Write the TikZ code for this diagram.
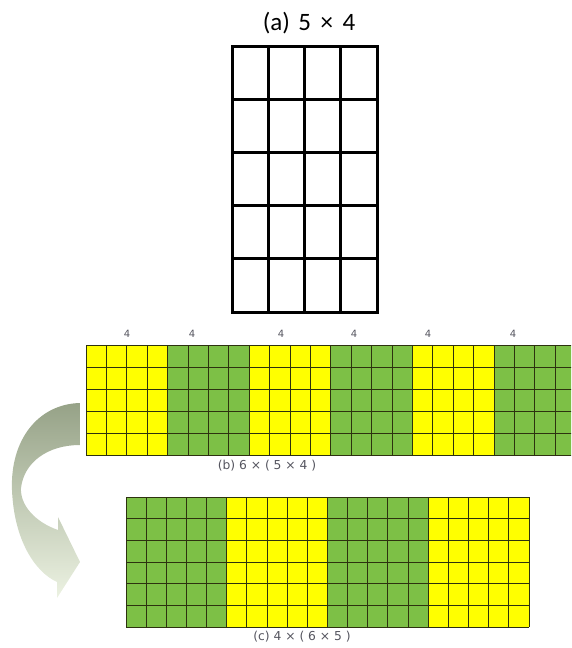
\documentclass[tikz,border=0pt]{standalone}
\usepackage{fontspec}
\setmainfont{Carlito}
\newfontfamily\lblfont{DejaVu Sans}
\definecolor{gyel}{RGB}{255,255,0}
\definecolor{ggrn}{RGB}{125,192,70}
\definecolor{gline}{RGB}{45,50,15}
\definecolor{lblgray}{RGB}{85,85,95}
\definecolor{arrtop}{RGB}{150,162,135}
\definecolor{arrbot}{RGB}{236,242,226}
\tikzset{
  agrid/.style={line width=3pt, draw=black},
  cgrid/.style={line width=1pt, draw=gline},
  numlbl/.style={font=\lblfont\fontsize{10}{11}\selectfont, text=lblgray, inner sep=0pt},
  caplbl/.style={font=\lblfont\fontsize{12.3}{14}\selectfont, text=lblgray, inner sep=0pt},
}
\begin{document}
\begin{tikzpicture}[x=1pt,y=-1pt]
\useasboundingbox (0,0) rectangle (571,648);
\begin{scope}
\clip (0,0) rectangle (571,648);

% ---------- (a) ----------
\node[font=\fontsize{25}{28}\selectfont, inner sep=0pt] (ta) at (309,23) {(a)\hspace{8.5pt}5\hspace{9.5pt}×\hspace{9.5pt}4};
\foreach \i in {1,...,3} \draw[agrid] ({232+\i*36.25},46) -- ({232+\i*36.25},312);
\foreach \j in {1,...,4} \draw[agrid] (232,{46+\j*53.2}) -- (377,{46+\j*53.2});
\draw[agrid] (232,46) rectangle (377,312);

% ---------- curved arrow ----------
\shade[top color=arrtop, bottom color=arrbot]
  (80,403) .. controls (38,404) and (10,440) .. (12,490)
  .. controls (14,540) and (35,572) .. (57,582)
  -- (57,598) -- (80,562) -- (58,517) -- (58,530)
  .. controls (35,522) and (20,505) .. (21,488)
  .. controls (24,462) and (48,445) .. (80,445) -- cycle;

% ---------- (b) ----------
\foreach \b/\c in {0/gyel,1/ggrn,2/gyel,3/ggrn,4/gyel,5/ggrn}
  \fill[\c] ({86+\b*81.6},345.7) rectangle ({86+(\b+1)*81.6},455);
\foreach \i in {0,...,24} \draw[cgrid] ({86+\i*20.4},345.7) -- ({86+\i*20.4},455);
\foreach \j in {0,...,5} \draw[cgrid] (86,{345.7+\j*21.86}) -- (576,{345.7+\j*21.86});
\foreach \x/\n in {127/b1,192/b2,281/b3,354/b4,428/b5,513/b6}
  \node[numlbl] (\n) at (\x,334) {4};
\node[caplbl] (lb) at (267,466) {(b) 6 × ( 5 × 4 )};

% ---------- (c) ----------
\foreach \b/\c in {0/ggrn,1/gyel,2/ggrn,3/gyel}
  \fill[\c] ({126+\b*100.75},497.3) rectangle ({126+(\b+1)*100.75},627.3);
\foreach \i in {0,...,20} \draw[cgrid] ({126+\i*20.15},497.3) -- ({126+\i*20.15},627.3);
\foreach \j in {0,...,6} \draw[cgrid] (126,{497.3+\j*21.667}) -- (529,{497.3+\j*21.667});
\node[caplbl] (lc) at (302,637) {(c) 4 × ( 6 × 5 )};
\end{scope}
\end{tikzpicture}
\end{document}
